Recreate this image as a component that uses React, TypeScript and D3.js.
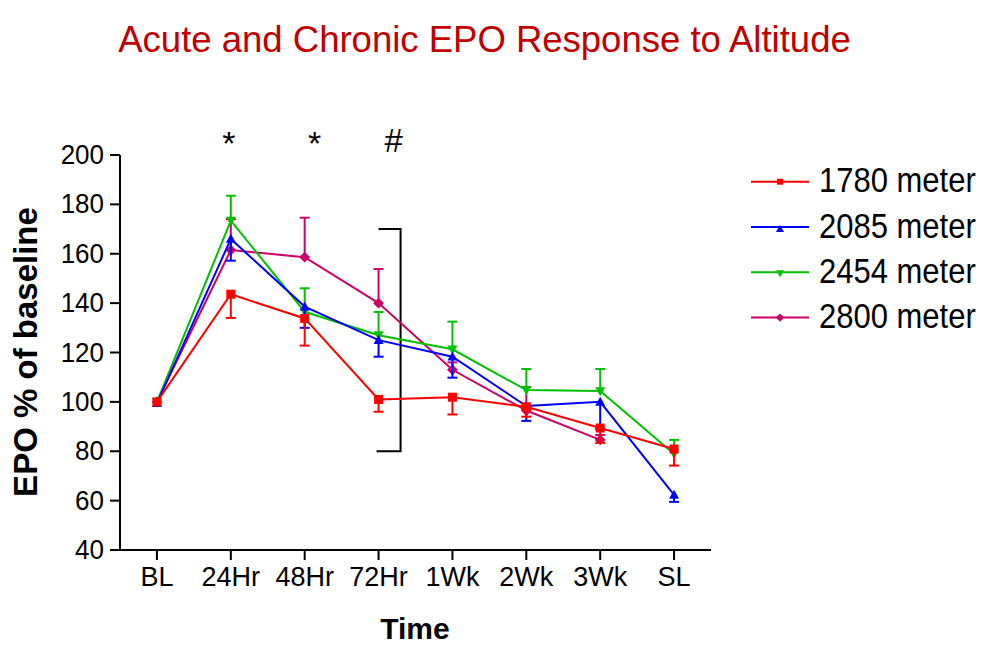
import React from "react";
import * as d3 from "d3";

const categories = ["BL", "24Hr", "48Hr", "72Hr", "1Wk", "2Wk", "3Wk", "SL"];
const yTicks = [40, 60, 80, 100, 120, 140, 160, 180, 200];

const seriesNames = ["1780 meter", "2085 meter", "2454 meter", "2800 meter"];
const seriesColors = ["#ff0000", "#0000ff", "#00c000", "#cc0066"];
const seriesMarkers = ["square", "triangleUp", "triangleDown", "diamond"];
const errorDirection = [-1, -1, 1, 1];

const values1780 = [100, 143.6, 133.8, 101, 101.9, 98, 89.4, 80.9];
const errors1780 = [0, 9.6, 11, 5, 7, 4, 6, 6.7];
const values2085 = [99.5, 166, 138.6, 125, 118.3, 98.3, 100, 62.3];
const errors2085 = [0, 8.8, 8.6, 6.7, 8.5, 6, 11, 2.8];
const values2454 = [100, 173.4, 136.5, 127, 121.3, 104.8, 104.4, 78.9];
const errors2454 = [0, 10.1, 9.5, 9.4, 11.2, 8.5, 8.9, 5.7];
const values2800: (number | null)[] = [100, 161.5, 158.6, 140, 113, 96.5, 84.6, null];
const errors2800 = [0, 12.5, 16, 13.8, 3, 9.5, 2, 0];

const seriesValues = [values1780, values2085, values2454, values2800];
const seriesErrors = [errors1780, errors2085, errors2454, errors2800];

const annotations = [
  { cat: "24Hr", text: "*", dx: -2 },
  { cat: "48Hr", text: "*", dx: 10 },
  { cat: "72Hr", text: "#", dx: 15 },
];
const bracketCat = "72Hr";
const bracketRange = [80, 170];

const FONT = "'Liberation Sans', Arial, Helvetica, sans-serif";

function Marker({ type, x, y, color, size }: { type: string; x: number; y: number; color: string; size: number }) {
  const s = size;
  if (type === "square") {
    return <rect x={x - s / 2} y={y - s / 2} width={s} height={s} fill={color} />;
  }
  if (type === "triangleUp") {
    const h = s * 0.95;
    return <path d={`M${x},${y - h * 0.6} L${x + s / 2 + 0.5},${y + h * 0.45} L${x - s / 2 - 0.5},${y + h * 0.45} Z`} fill={color} />;
  }
  if (type === "triangleDown") {
    const h = s * 0.95;
    return <path d={`M${x},${y + h * 0.6} L${x + s / 2 + 0.5},${y - h * 0.45} L${x - s / 2 - 0.5},${y - h * 0.45} Z`} fill={color} />;
  }
  const r = s * 0.6;
  return <path d={`M${x},${y - r} L${x + r},${y} L${x},${y + r} L${x - r},${y} Z`} fill={color} />;
}

export default function App() {
  const x = d3.scalePoint<string>().domain(categories).range([120, 711]).padding(0.5);
  const y = d3.scaleLinear().domain([40, 200]).range([550, 155]);

  const line = d3
    .line<number | null>()
    .defined((d) => d !== null)
    .x((_, i) => x(categories[i]) as number)
    .y((d) => y(d as number));

  const drawOrder = [3, 2, 1, 0];
  const bx = (x(bracketCat) as number) + 22;

  return (
    <svg
      width={992}
      height={648}
      style={{ position: "absolute", left: 0, top: 0, display: "block", background: "#fff" }}
      fontFamily={FONT}
    >
      <rect width={992} height={648} fill="#fff" />
      <text x={484.5} y={52} textAnchor="middle" fontSize={36.5} fill="#c00000">
        Acute and Chronic EPO Response to Altitude
      </text>

      {/* Y axis */}
      <line x1={120} x2={120} y1={y(200)} y2={y(40)} stroke="#000" strokeWidth={2} />
      {yTicks.map((t) => (
        <g key={t}>
          <line x1={110} x2={120} y1={y(t)} y2={y(t)} stroke="#000" strokeWidth={2} />
          <text transform={`translate(104,${y(t) + 9}) scale(1,1.05)`} textAnchor="end" fontSize={26} fill="#000">
            {t}
          </text>
        </g>
      ))}
      {/* X axis */}
      <line x1={110} x2={711} y1={550} y2={550} stroke="#000" strokeWidth={2} />
      {categories.map((c) => (
        <g key={c}>
          <line x1={x(c)} x2={x(c)} y1={550} y2={560} stroke="#000" strokeWidth={2} />
          <text x={x(c)} y={586} textAnchor="middle" fontSize={27} fill="#000">
            {c}
          </text>
        </g>
      ))}

      <text
        transform="translate(37,352) rotate(-90)"
        textAnchor="middle"
        fontSize={33}
        fontWeight="bold"
        fill="#000"
      >
        EPO % of baseline
      </text>
      <text x={415} y={639} textAnchor="middle" fontSize={30} fontWeight="bold" fill="#000">
        Time
      </text>

      {/* annotations */}
      {annotations.map((a, i) => (
        <text key={i} x={(x(a.cat) as number) + a.dx} y={a.text === "#" ? 152 : 155} textAnchor="middle" fontSize={a.text === "#" ? 33 : 34} fill="#000">
          {a.text}
        </text>
      ))}
      <path
        d={`M${bx - 22},${y(bracketRange[1])} H${bx} V${y(bracketRange[0])} H${bx - 24}`}
        fill="none"
        stroke="#000"
        strokeWidth={2}
      />

      {/* series */}
      {drawOrder.map((si) => {
        const vals = seriesValues[si];
        const errs = seriesErrors[si];
        const color = seriesColors[si];
        const dir = errorDirection[si];
        return (
          <g key={si}>
            {vals.map((v, i) => {
              if (v === null || !errs[i]) return null;
              const cx = x(categories[i]) as number;
              const y0 = y(v);
              const y1 = y(v + dir * errs[i]);
              return (
                <g key={i}>
                  <line x1={cx} x2={cx} y1={y0} y2={y1} stroke={color} strokeWidth={2} />
                  <line x1={cx - 5} x2={cx + 5} y1={y1} y2={y1} stroke={color} strokeWidth={2} />
                </g>
              );
            })}
            <path d={line(vals) || ""} fill="none" stroke={color} strokeWidth={2} />
            {vals.map((v, i) =>
              v === null ? null : (
                <Marker key={i} type={seriesMarkers[si]} x={x(categories[i]) as number} y={y(v)} color={color} size={9} />
              )
            )}
          </g>
        );
      })}

      {/* legend */}
      {seriesNames.map((n, i) => {
        const ly = 181.7 + i * 45.3;
        return (
          <g key={n}>
            <line x1={751} x2={809} y1={ly} y2={ly} stroke={seriesColors[i]} strokeWidth={2} />
            <Marker type={seriesMarkers[i]} x={780} y={ly + (i === 1 ? 2 : i === 2 ? 1 : 0)} color={seriesColors[i]} size={i === 0 ? 6 : 7} />
            <text transform={`translate(819,${ly + 10.6}) scale(1,1.13)`} fontSize={31} fill="#000">
              {n}
            </text>
          </g>
        );
      })}
    </svg>
  );
}
